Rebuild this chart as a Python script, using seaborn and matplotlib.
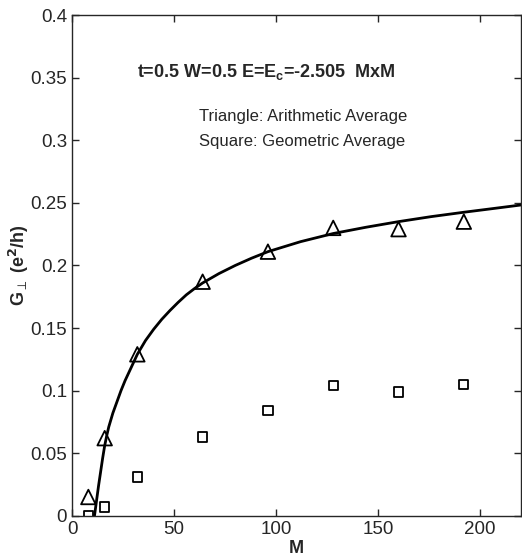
import numpy as np
import pandas as pd
import matplotlib
matplotlib.use("Agg")
import matplotlib.pyplot as plt
import seaborn as sns

# system sizes M and averaged conductance
sizes = [8, 16, 32, 64, 96, 128, 160, 192]
arith_avg = [0.015, 0.062, 0.129, 0.187, 0.211, 0.230, 0.229, 0.235]
geom_avg = [0.000, 0.007, 0.031, 0.063, 0.084, 0.104, 0.099, 0.105]

# fitted curve
fit_m = [11.0, 12, 13, 14, 15, 16, 17, 18, 20, 22, 24, 26, 28, 30, 32,
         36, 40, 44, 48, 52, 56, 60, 64, 72, 80, 88, 96, 112, 128, 144,
         160, 176, 192, 208, 220]
fit_g = [0.0, 0.012, 0.024, 0.035, 0.046, 0.056, 0.064, 0.071, 0.082,
         0.091, 0.100, 0.108, 0.115, 0.122, 0.129, 0.140, 0.149, 0.157,
         0.164, 0.1705, 0.1765, 0.1815, 0.186, 0.1935, 0.200, 0.2058,
         0.211, 0.219, 0.2255, 0.2305, 0.235, 0.239, 0.2425, 0.2458, 0.2483]

x_ticks = [0, 50, 100, 150, 200]
y_ticks = [0, 0.05, 0.1, 0.15, 0.2, 0.25, 0.3, 0.35, 0.4]
y_labels = ["0", "0.05", "0.1", "0.15", "0.2", "0.25", "0.3", "0.35", "0.4"]

sns.set_style("ticks")
plt.rcParams["font.family"] = ["Liberation Sans", "DejaVu Sans"]
plt.rcParams["mathtext.fontset"] = "custom"
plt.rcParams["mathtext.rm"] = "Liberation Sans"
plt.rcParams["mathtext.bf"] = "Liberation Sans:bold"

fig = plt.figure(figsize=(5.22, 5.60), dpi=100)
ax = fig.add_axes([0.138, 0.079, 0.86, 0.894])

fit = pd.DataFrame({"M": fit_m, "G": fit_g})
sns.lineplot(data=fit, x="M", y="G", color="black", linewidth=2, ax=ax)

df = pd.DataFrame({"M": sizes, "arith": arith_avg, "geom": geom_avg})
sns.scatterplot(data=df, x="M", y="arith", marker="^", s=110,
                facecolors="none", edgecolor="black", linewidth=1.3, ax=ax)
sns.scatterplot(data=df, x="M", y="geom", marker="s", s=45,
                facecolors="none", edgecolor="black", linewidth=1.3, ax=ax)

ax.set_xlim(0, 220)
ax.set_ylim(0, 0.4)
ax.set_xticks(x_ticks)
ax.set_yticks(y_ticks)
ax.set_yticklabels(y_labels)
ax.tick_params(direction="in", top=True, right=True, labelsize=13.5,
               length=5, width=1)
for sp in ax.spines.values():
    sp.set_linewidth(1)
    sp.set_visible(True)

ax.set_xlabel("M", fontsize=13, fontweight="bold", labelpad=2)
ax.set_ylabel(r"G$_{\perp}$ (e$^{\mathbf{2}}$/h)", fontsize=13,
              fontweight="bold", math_fontfamily="dejavusans")
ax.yaxis.set_label_coords(-0.092, 0.5)

ax.text(32, 0.3545, r"t=0.5 W=0.5 E=E$_\mathbf{c}$=-2.505  MxM",
        fontsize=13, fontweight="bold", va="center")
ax.text(62, 0.319, "Triangle: Arithmetic Average", fontsize=12, va="center")
ax.text(62, 0.299, "Square: Geometric Average", fontsize=12, va="center")

fig.savefig("out.png", dpi=100)
